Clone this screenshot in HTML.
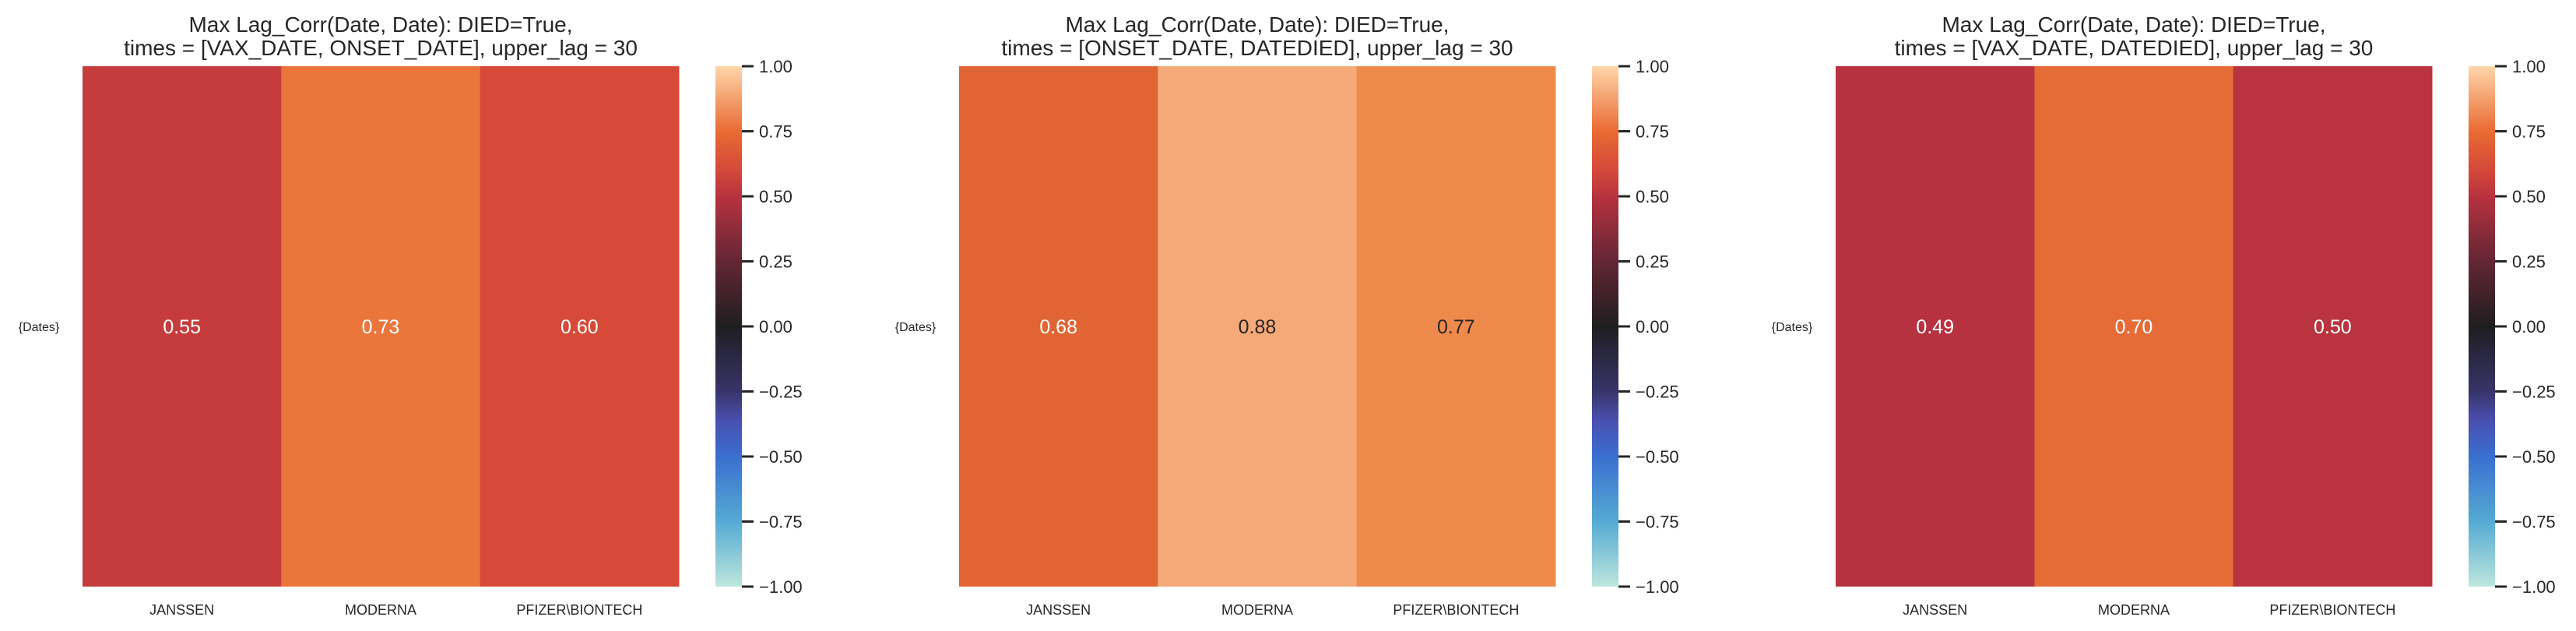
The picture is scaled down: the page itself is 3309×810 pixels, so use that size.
<!DOCTYPE html>
<html><head><meta charset="utf-8"><style>
body{margin:0;background:#fff;}
svg text{font-family:"Liberation Sans",Arial,sans-serif;fill:#262626;}
</style></head><body>
<svg id="chart" width="3309" height="805" viewBox="0 0 3309 805" xmlns="http://www.w3.org/2000/svg">
<defs>
<linearGradient id="icefire" x1="0" y1="1" x2="0" y2="0">
<stop offset="0" stop-color="#bde6dd"/>
<stop offset="0.125" stop-color="#55aad3"/>
<stop offset="0.25" stop-color="#3a6fd0"/>
<stop offset="0.32" stop-color="#4a4fb0"/>
<stop offset="0.375" stop-color="#38346a"/>
<stop offset="0.5" stop-color="#1f1e1f"/>
<stop offset="0.625" stop-color="#642635"/>
<stop offset="0.745" stop-color="#b5313f"/>
<stop offset="0.8" stop-color="#d4493a"/>
<stop offset="0.875" stop-color="#e96b33"/>
<stop offset="0.94" stop-color="#f4a270"/>
<stop offset="1" stop-color="#ffd6aa"/>
</linearGradient>
</defs>
</svg>
<script>
const categories = ["JANSSEN","MODERNA","PFIZER\\BIONTECH"];
const rowLabels = ["{Dates}"];
const valuesPanel1 = [0.55,0.73,0.60];
const valuesPanel2 = [0.68,0.88,0.77];
const valuesPanel3 = [0.49,0.70,0.50];
const titlesLine2 = ["times = [VAX_DATE, ONSET_DATE], upper_lag = 30","times = [ONSET_DATE, DATEDIED], upper_lag = 30","times = [VAX_DATE, DATEDIED], upper_lag = 30"];
const cbarTicks = [1.00,0.75,0.50,0.25,0.00,-0.25,-0.50,-0.75,-1.00];

const NS="http://www.w3.org/2000/svg";
const svg=document.getElementById('chart');
const stops=[[-1,[189,230,221]],[-0.75,[85,170,211]],[-0.5,[58,111,208]],[-0.36,[74,79,176]],[-0.25,[56,52,106]],[0,[31,30,31]],[0.25,[100,38,53]],[0.49,[182,50,64]],[0.55,[198,60,60]],[0.60,[214,74,55]],[0.68,[225,100,52]],[0.73,[235,118,60]],[0.77,[238,138,76]],[0.88,[245,169,120]],[1,[255,214,170]]];
function cmap(v){
  for(let i=0;i<stops.length-1;i++){
    const a=stops[i],b=stops[i+1];
    if(v>=a[0]&&v<=b[0]){const t=(v-a[0])/(b[0]-a[0]);return a[1].map((c,k)=>Math.round(c+(b[1][k]-c)*t));}
  }
  return v<0?stops[0][1]:stops[stops.length-1][1];
}
function mk(tag,attrs,parent){const e=document.createElementNS(NS,tag);for(const k in attrs)e.setAttribute(k,attrs[k]);(parent||svg).appendChild(e);return e;}
const panels=[valuesPanel1,valuesPanel2,valuesPanel3];
const lefts=[106,1232,2358];
const W=766, yTop=85, yBottom=753;
const yScale=v=>yTop+(1-v)/2*(yBottom-yTop);
panels.forEach((vals,p)=>{
  const x0=lefts[p];
  const g=mk('g',{});
  
  
  const cw=W/categories.length;
  const xScale=i=>x0+i*cw;
  const t1=mk('text',{x:x0+W/2,y:41,'text-anchor':'middle','font-size':'28'},g);
  t1.textContent="Max Lag_Corr(Date, Date): DIED=True,";
  
  
  const t2=mk('text',{x:x0+W/2,y:71,'text-anchor':'middle','font-size':'28'},g);
  t2.textContent=titlesLine2[p];
  
  
  vals.forEach((v,i)=>{
    const c=cmap(v);
    const r=mk('rect',{x:xScale(i),y:yTop,width:cw+0.5,height:yBottom-yTop,fill:`rgb(${c.join(',')})`},g);
    
    
    const lum=0.2126*c[0]+0.7152*c[1]+0.0722*c[2];
    const tx=mk('text',{x:xScale(i)+cw/2,y:(yTop+yBottom)/2+9,'text-anchor':'middle','font-size':'25',style:'fill:'+(lum>150?'#262626':'#ffffff')},g);
    tx.textContent=v.toFixed(2);
    
    
    const xl=mk('text',{x:xScale(i)+cw/2,y:789,'text-anchor':'middle','font-size':'18'},g);
    xl.textContent=categories[i];
    
    
  });
  const yl=mk('text',{x:x0-56,y:(yTop+yBottom)/2+6,'text-anchor':'middle','font-size':'16'},g);
  yl.textContent=rowLabels[0];
  
  
  const cx=x0+W+47;
  const cb=mk('rect',{x:cx,y:yTop,width:34,height:yBottom-yTop,fill:'url(#icefire)'},g);
  
  
  cbarTicks.forEach(t=>{
    const y=yScale(t);
    const tl=mk('line',{x1:cx+34,x2:cx+49,y1:y,y2:y,stroke:'#262626','stroke-width':'3'},g);
    
    
    const tt=mk('text',{x:cx+56,y:y+8,'font-size':'22'},g);
    tt.textContent=(t<0?'\u2212':'')+Math.abs(t).toFixed(2);
    
    
  });
});
</script>
</body></html>
